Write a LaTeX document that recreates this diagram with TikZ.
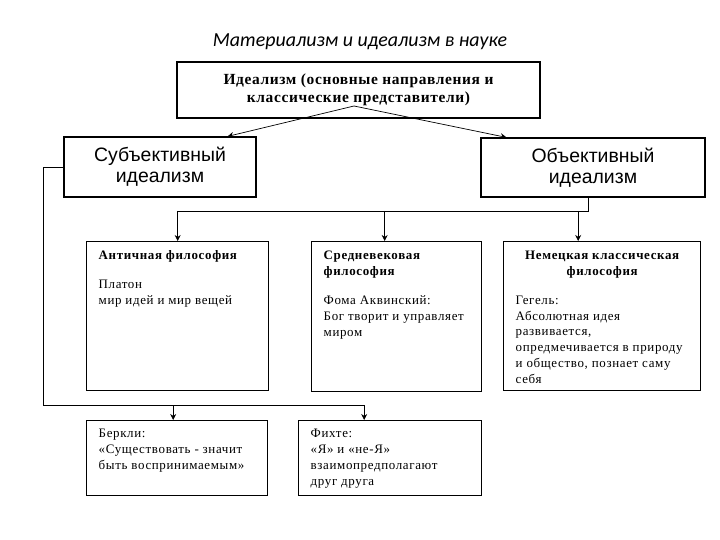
\documentclass[tikz,border=0pt]{standalone}
\usepackage{fontspec}
\setmainfont{Liberation Serif}
\setsansfont{Liberation Sans}
\newfontfamily\titlefont{Carlito}
\usetikzlibrary{arrows.meta}
\newcommand{\boxbody}[3]{\parbox[t][#2][t]{#1}{\raggedright #3}}

\begin{document}
\begin{tikzpicture}[x=1bp,y=-1bp]
          \tikzstyle{every node}=[draw,line width=1.4bp,inner sep=0pt];
          \tikzstyle{frame}=[anchor=north west,inner xsep=12bp,inner ysep=9bp,font=\fontsize{13}{16}\selectfont\addfontfeature{LetterSpace=5}];
          \tikzstyle{head}=[align=center,line width=1.2bp,font=\sffamily\fontsize{19.5}{21}\selectfont];
          \tikzstyle{arr}=[-{Stealth[length=6bp,width=6bp]},line width=0.7bp];
          \useasboundingbox (0,0) rectangle (720,540);
          %\node (name) at (x,y) {text};
          \node[draw=none,font=\titlefont\itshape\fontsize{20}{22}\selectfont] (title) at (360,42) {Материализм и идеализм в науке};
          \node[minimum width=363bp,minimum height=56bp,align=center,font=\bfseries\fontsize{15.5}{18}\selectfont\addfontfeature{LetterSpace=4}] (top) at (358.5,90)
            {Идеализм (основные направления и\\классические представители)};
          \node[head,minimum width=192bp,minimum height=60bp] (subj) at (160,167) {Субъективный\\идеализм};
          \node[head,minimum width=224bp,minimum height=59bp] (obj) at (593,167.5) {Объективный\\идеализм};
          \node[frame] (A) at (86,241) {\boxbody{158bp}{131bp}{\textbf{Античная философия}\par\vspace{13bp}
            Платон\\мир идей и мир вещей}};
          \node[frame] (B) at (311,241) {\boxbody{146bp}{132bp}{\textbf{Средневековая\\философия}\par\vspace{13bp}
            Фома Аквинский:\\Бог творит и управляет\\миром}};
          \node[frame] (C) at (503,241) {\boxbody{173bp}{131bp}{{\centering\bfseries Немецкая классическая\\философия\par}\vspace{13bp}
            Гегель:\\Абсолютная идея\\развивается,\\опредмечивается в природу\\и общество, познает саму\\себя}};
          \node[frame,inner ysep=8bp] (D) at (86,420) {\boxbody{157bp}{59bp}{Беркли:\\«Существовать - значит\\быть воспринимаемым»}};
          \node[frame,inner ysep=8bp] (E) at (298,420) {\boxbody{159bp}{59bp}{Фихте:\\«Я» и «не-Я»\\взаимопредполагают\\друг друга}};
          \coordinate (apex) at (354,106);
          \coordinate (j) at (588,211);
          \coordinate (k) at (43,405);
          \draw[arr] (apex)--([xshift=-29bp]subj.north east);
          \draw[arr] (apex)--([xshift=26bp]obj.north west);
          \draw[line width=0.7bp] (obj.south -| j)--(j)--(A.north |- j);
          \draw[arr] (A.north |- j)--(A.north);
          \draw[arr] ([xshift=-12bp]B.north |- j)--([xshift=-12bp]B.north);
          \draw[arr] ([xshift=-24bp]C.north |- j)--([xshift=-24bp]C.north);
          \draw[line width=0.7bp] (subj.west) -| (k)--([xshift=-26bp]E.north |- k);
          \draw[arr] ([xshift=-4bp]D.north |- k)--([xshift=-4bp]D.north);
          \draw[arr] ([xshift=-26bp]E.north |- k)--([xshift=-26bp]E.north);
      \end{tikzpicture}
\end{document}
